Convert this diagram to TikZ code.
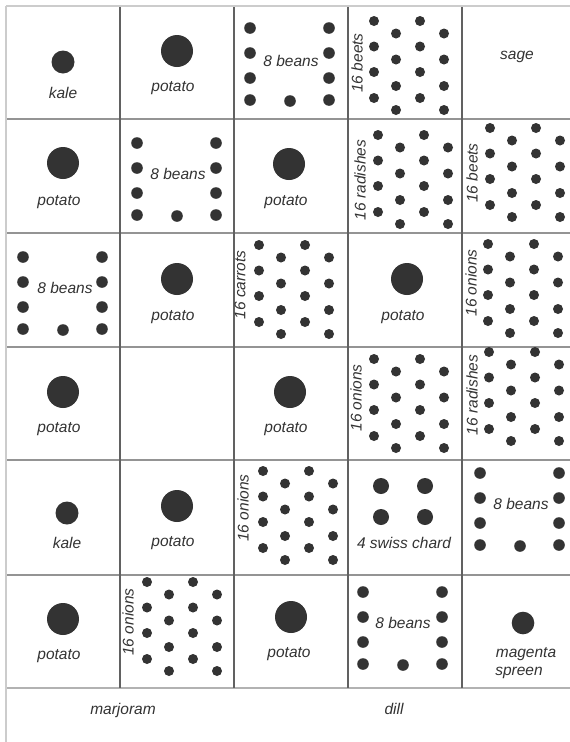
\documentclass[tikz,border=0pt]{standalone}
\usepackage{fontspec}
\setmainfont{Liberation Sans}
\begin{document}
\begin{tikzpicture}[x=1pt,y=-1pt,
  lbl/.style={inner sep=0pt,text=black!80,font=\itshape\fontsize{15.5}{18}\selectfont},
  rlbl/.style={lbl,rotate=90},
  dotc/.style={fill=black!80},
  hline/.style={draw=black!42,line width=1.7pt},
  vline/.style={draw=black!62,line width=1.1pt},
  edge/.style={draw=black!20,line width=2pt}]
\useasboundingbox (0,0) rectangle (570,742);
\clip (0,0) rectangle (570,742);
\fill[white] (0,0) rectangle (570,742);
\newcommand\sixteenDots[2]{%
  \begin{scope}[shift={(#1,#2)}]
    \foreach \cx in {0,46}{\foreach \cy in {0,25.5,51,77}{\fill[dotc] (\cx,\cy) circle (5);}}
    \foreach \cx in {22,70}{\foreach \cy in {12.5,38.5,65,89}{\fill[dotc] (\cx,\cy) circle (5);}}
  \end{scope}}
\newcommand\beanDots[2]{%
  \begin{scope}[shift={(#1,#2)}]
    \foreach \cx in {0,79}{\foreach \cy in {0,25,50,72}{\fill[dotc] (\cx,\cy) circle (5.8);}}
    \fill[dotc] (40,73) circle (5.8);
  \end{scope}}
% grid
\foreach \gy in {119,233,347,460,575}{\draw[hline] (6,\gy) -- (576,\gy);}
\draw[draw=black!30,line width=2pt] (6,688) -- (576,688);
\foreach \gx in {120,234,348,462}{\draw[vline] (\gx,6) -- (\gx,688);}
\draw[edge] (6,6) -- (576,6);
\draw[edge] (6,6) -- (6,742);
% potatoes
\foreach \px/\py in {177/51,63/163,289/164,177/279,407/279,63/392,290/392,177/506,63/619,291/617}
  {\fill[dotc] (\px,\py) circle (16);}
% kale
\fill[dotc] (63,62) circle (11.5);
\fill[dotc] (67,513) circle (11.5);
% swiss chard
\foreach \px/\py in {381/486,425/486,381/517,425/517}{\fill[dotc] (\px,\py) circle (8);}
% magenta spreen
\fill[dotc] (523,623) circle (11.3);
% beans
\beanDots{250}{28}
\beanDots{137}{143}
\beanDots{23}{257}
\beanDots{480}{473}
\beanDots{363}{592}
% sixteens
\sixteenDots{374}{21}
\sixteenDots{378}{135}
\sixteenDots{490}{128}
\sixteenDots{259}{245}
\sixteenDots{488}{244}
\sixteenDots{374}{359}
\sixteenDots{489}{352}
\sixteenDots{263}{471}
\sixteenDots{147}{582}
% labels row 1
\node[lbl] (kaleA) at (63,93) {kale};
\node[lbl] (potA) at (173,88) {potato};
\node[lbl] (beanA) at (291,61) {8 beans};
\node[rlbl] (beetA) at (357,63) {16 beets};
\node[lbl] (sage) at (517,57) {sage};
% row 2
\node[lbl] (potB) at (59,202) {potato};
\node[lbl] (beanB) at (178,174) {8 beans};
\node[lbl] (potC) at (286,202) {potato};
\node[rlbl] (radA) at (360,180) {16 radishes};
\node[rlbl] (beetB) at (472,173) {16 beets};
% row 3
\node[lbl] (beanC) at (65,288) {8 beans};
\node[lbl] (potD) at (173,317) {potato};
\node[rlbl] (carrot) at (240,285) {16 carrots};
\node[lbl] (potE) at (403,317) {potato};
\node[rlbl] (onA) at (471,283) {16 onions};
% row 4
\node[lbl] (potF) at (59,429) {potato};
\node[lbl] (potG) at (286,429) {potato};
\node[rlbl] (onB) at (356,398) {16 onions};
\node[rlbl] (radB) at (472,395) {16 radishes};
% row 5
\node[lbl] (kaleB) at (67,543) {kale};
\node[lbl] (potH) at (173,543) {potato};
\node[rlbl] (onC) at (243,508) {16 onions};
\node[lbl] (chard) at (404,543) {4 swiss chard};
\node[lbl] (beanD) at (521,504) {8 beans};
% row 6
\node[lbl] (potI) at (59,656) {potato};
\node[rlbl] (onD) at (128,622) {16 onions};
\node[lbl] (potJ) at (289,654) {potato};
\node[lbl] (beanE) at (403,623) {8 beans};
\node[lbl] (mag) at (526,654) {magenta};
\node[lbl] (spr) at (519,673) {spreen};
% row 7
\node[lbl] (marj) at (123,710) {marjoram};
\node[lbl] (dill) at (394,709) {dill};
\end{tikzpicture}
\end{document}
